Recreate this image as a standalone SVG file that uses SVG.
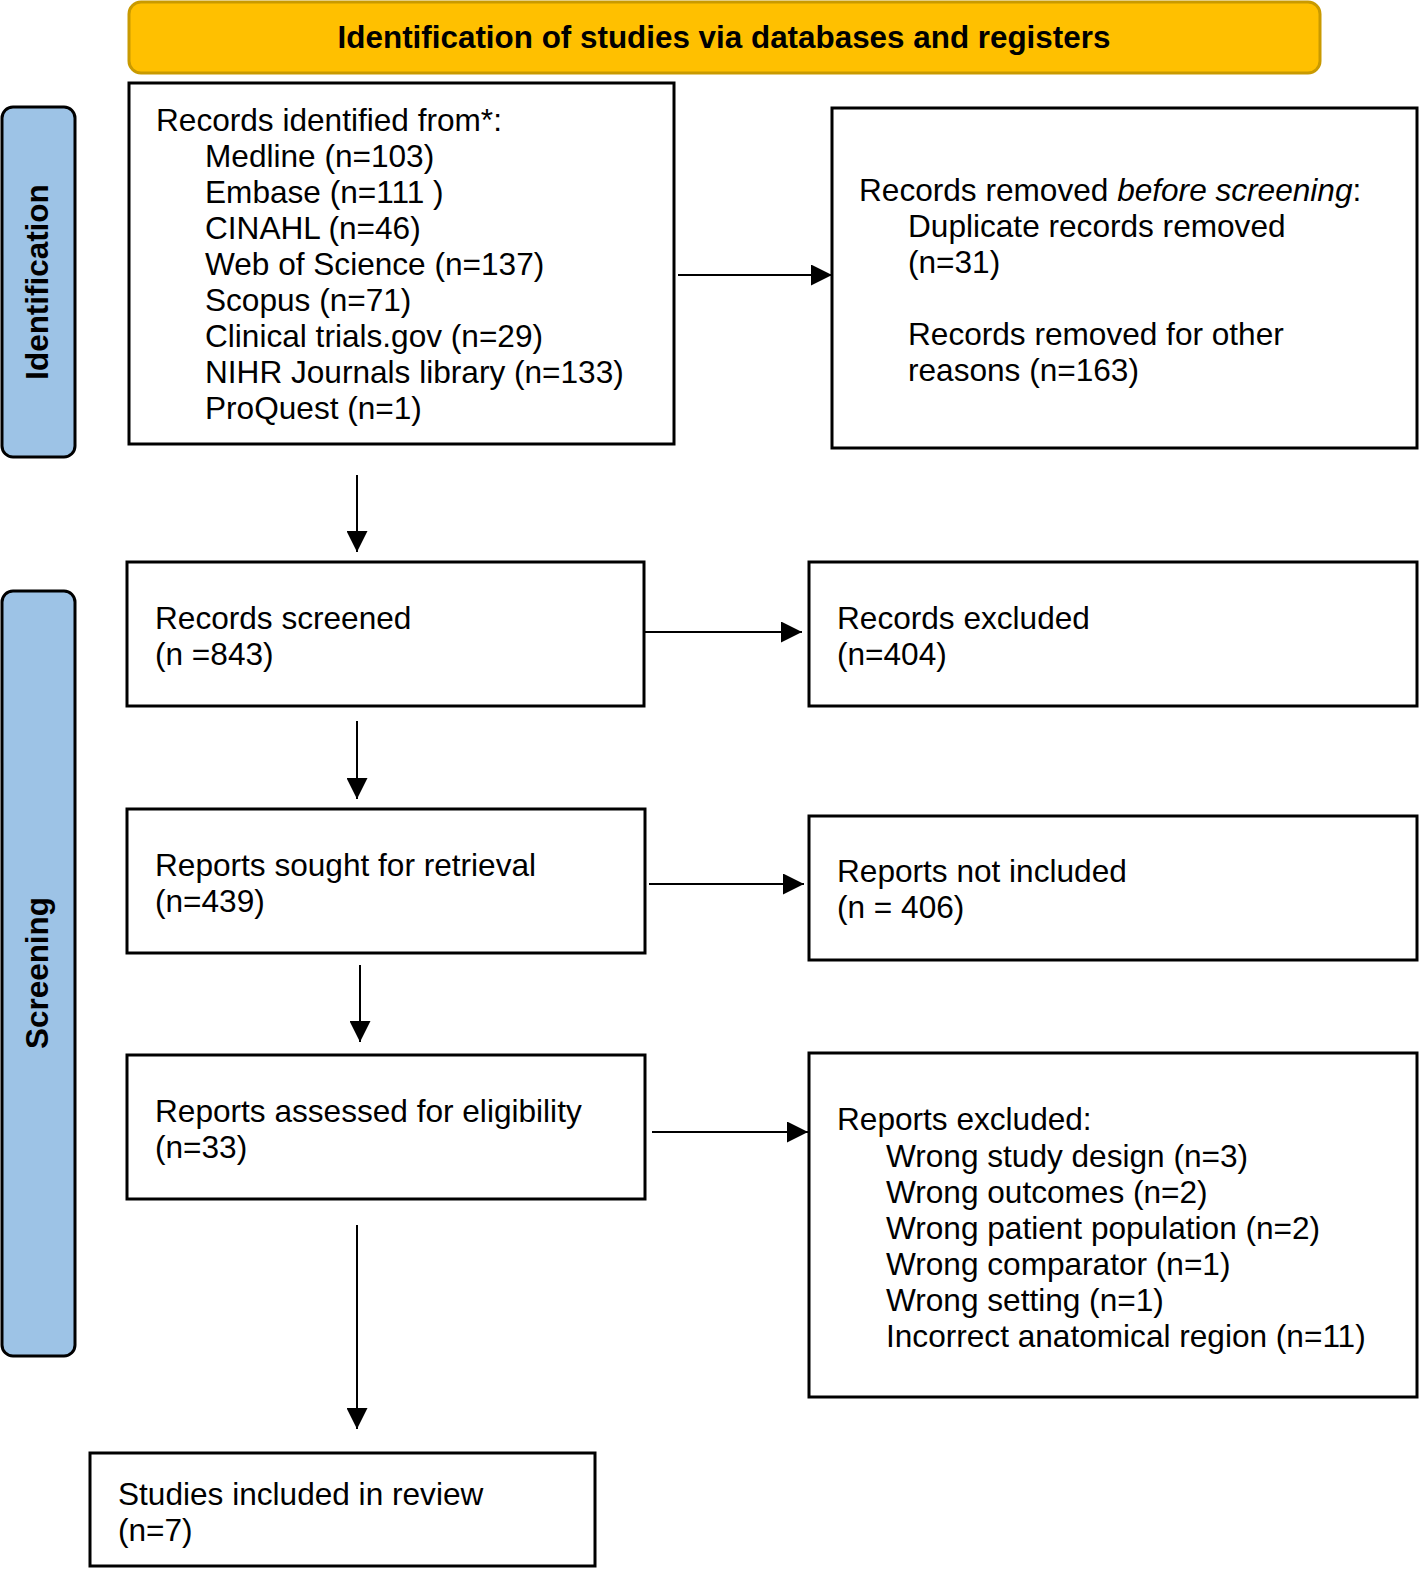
<svg xmlns="http://www.w3.org/2000/svg" width="1421" height="1570" viewBox="0 0 1421 1570">
<style>
.box{fill:#fff;stroke:#000;stroke-width:3}
.side{fill:#9DC3E6;stroke:#000;stroke-width:3}
.banner{fill:#FFC000;stroke:#C99A00;stroke-width:3}
.t{font-family:"Liberation Sans",Arial,sans-serif;font-size:31.6px;fill:#000}
.b{font-family:"Liberation Sans",Arial,sans-serif;font-size:31.4px;font-weight:bold;fill:#000}
.c{stroke:#000;stroke-width:2;fill:none}
</style>
<defs>
<marker id="ah" markerUnits="userSpaceOnUse" markerWidth="21" markerHeight="21" viewBox="0 0 21 21" refX="21" refY="10.5" orient="auto">
<path d="M0,0 L21,10.5 L0,21 z" fill="#000"/>
</marker>
</defs>
<rect width="1421" height="1570" fill="#fff"/>

<g id="banner">
<rect class="banner" x="129" y="2" width="1191" height="71" rx="12"/>
<text class="b" x="724" y="48" text-anchor="middle">Identification of studies via databases and registers</text>
</g>

<g id="side-identification">
<rect class="side" x="2" y="107" width="73" height="350" rx="11"/>
<text class="b" transform="translate(48,282) rotate(-90)" text-anchor="middle">Identification</text>
</g>

<g id="side-screening">
<rect class="side" x="2" y="591" width="73" height="765" rx="11"/>
<text class="b" transform="translate(48,973) rotate(-90)" text-anchor="middle">Screening</text>
</g>

<g id="records-identified">
<rect class="box" x="129" y="83" width="545" height="361"/>
<text class="t">
<tspan x="156" y="131">Records identified from*:</tspan>
<tspan x="205" y="167">Medline (n=103)</tspan>
<tspan x="205" y="203">Embase (n=111 )</tspan>
<tspan x="205" y="239">CINAHL (n=46)</tspan>
<tspan x="205" y="275">Web of Science (n=137)</tspan>
<tspan x="205" y="311">Scopus (n=71)</tspan>
<tspan x="205" y="347">Clinical trials.gov (n=29)</tspan>
<tspan x="205" y="383">NIHR Journals library (n=133)</tspan>
<tspan x="205" y="419">ProQuest (n=1)</tspan>
</text>
</g>

<g id="records-removed">
<rect class="box" x="832" y="108" width="585" height="340"/>
<text class="t">
<tspan x="859" y="201">Records removed <tspan font-style="italic">before screening</tspan>:</tspan>
<tspan x="908" y="237">Duplicate records removed</tspan>
<tspan x="908" y="273">(n=31)</tspan>
<tspan x="908" y="345">Records removed for other</tspan>
<tspan x="908" y="381">reasons (n=163)</tspan>
</text>
</g>

<g id="records-screened">
<rect class="box" x="127" y="562" width="517" height="144"/>
<text class="t"><tspan x="155" y="629">Records screened</tspan><tspan x="155" y="665">(n =843)</tspan></text>
</g>

<g id="records-excluded">
<rect class="box" x="809" y="562" width="608" height="144"/>
<text class="t"><tspan x="837" y="629">Records excluded</tspan><tspan x="837" y="665">(n=404)</tspan></text>
</g>

<g id="reports-sought">
<rect class="box" x="127" y="809" width="518" height="144"/>
<text class="t"><tspan x="155" y="876">Reports sought for retrieval</tspan><tspan x="155" y="912">(n=439)</tspan></text>
</g>

<g id="reports-not-included">
<rect class="box" x="809" y="816" width="608" height="144"/>
<text class="t"><tspan x="837" y="882">Reports not included</tspan><tspan x="837" y="918">(n = 406)</tspan></text>
</g>

<g id="reports-assessed">
<rect class="box" x="127" y="1055" width="518" height="144"/>
<text class="t"><tspan x="155" y="1122">Reports assessed for eligibility</tspan><tspan x="155" y="1158">(n=33)</tspan></text>
</g>

<g id="reports-excluded">
<rect class="box" x="809" y="1053" width="608" height="344"/>
<text class="t">
<tspan x="837" y="1130">Reports excluded:</tspan>
<tspan x="886" y="1167">Wrong study design (n=3)</tspan>
<tspan x="886" y="1203">Wrong outcomes (n=2)</tspan>
<tspan x="886" y="1239">Wrong patient population (n=2)</tspan>
<tspan x="886" y="1275">Wrong comparator (n=1)</tspan>
<tspan x="886" y="1311">Wrong setting (n=1)</tspan>
<tspan x="886" y="1347">Incorrect anatomical region (n=11)</tspan>
</text>
</g>

<g id="studies-included">
<rect class="box" x="90" y="1453" width="505" height="113"/>
<text class="t"><tspan x="118" y="1505">Studies included in review</tspan><tspan x="118" y="1541">(n=7)</tspan></text>
</g>

<g id="connectors">
<line class="c" x1="678" y1="275" x2="832" y2="275" marker-end="url(#ah)"/>
<line class="c" x1="357" y1="475" x2="357" y2="552" marker-end="url(#ah)"/>
<line class="c" x1="645" y1="632" x2="802" y2="632" marker-end="url(#ah)"/>
<line class="c" x1="357" y1="721" x2="357" y2="799" marker-end="url(#ah)"/>
<line class="c" x1="649" y1="884" x2="804" y2="884" marker-end="url(#ah)"/>
<line class="c" x1="360" y1="965" x2="360" y2="1042" marker-end="url(#ah)"/>
<line class="c" x1="652" y1="1132" x2="808" y2="1132" marker-end="url(#ah)"/>
<line class="c" x1="357" y1="1225" x2="357" y2="1429" marker-end="url(#ah)"/>
</g>
</svg>
